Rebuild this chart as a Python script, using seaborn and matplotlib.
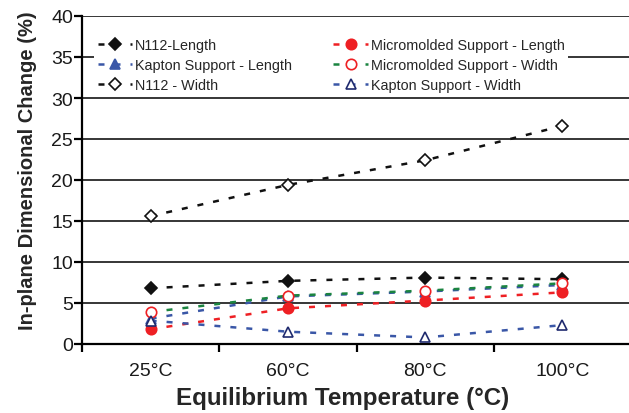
import matplotlib
matplotlib.use("Agg")
import matplotlib.pyplot as plt
import seaborn as sns
import pandas as pd
from matplotlib.ticker import FixedLocator

sns.set_theme(style="white")
plt.rcParams['font.family'] = ['Liberation Sans', 'DejaVu Sans']

categories = ["25°C", "60°C", "80°C", "100°C"]
n112_length = [6.8, 7.7, 8.1, 7.9]
kapton_length = [3.1, 5.8, 6.4, 7.2]
n112_width = [15.6, 19.4, 22.4, 26.6]
micro_length = [1.8, 4.35, 5.3, 6.3]
micro_width = [3.9, 5.9, 6.5, 7.4]
kapton_width = [2.85, 1.5, 0.8, 2.3]

series = [
    # label, values, line colour, marker, face, edge
    ("Kapton Support - Length", kapton_length, "#3a57a7", "^", "#3a57a7", "#3a57a7"),
    ("N112-Length", n112_length, "#111111", "D", "#111111", "#111111"),
    ("N112 - Width", n112_width, "#111111", "D", "white", "#111111"),
    ("Micromolded Support - Length", micro_length, "#ee2024", "o", "#ee2024", "#ee2024"),
    ("Micromolded Support - Width", micro_width, "#1b8440", "o", "white", "#ee2024"),
    ("Kapton Support - Width", kapton_width, "#3a57a7", "^", "white", "#1f2a6e"),
]

fig = plt.figure(figsize=(6.29, 4.14), dpi=100)
ax = fig.add_axes([82/629, 69/414, 549/629, 328/414])

handles = {}
for label, vals, col, mk, fc, ec in series:
    df = pd.DataFrame({"temp": pd.Categorical(categories, categories=categories, ordered=True),
                       "val": vals})
    sns.lineplot(data=df, x="temp", y="val", sort=False, ax=ax, color=col,
                 linewidth=1.8, linestyle=(0, (2.4, 4.0)),
                 marker=mk, markersize=7.5 if mk != "D" else 6.5,
                 markerfacecolor=fc, markeredgecolor=ec, markeredgewidth=1.2,
                 label=label, zorder=3)
    handles[label] = ax.get_lines()[-1]

ax.set_xlim(-0.5, 3.5)
ax.set_ylim(0, 40)
ax.set_yticks(range(0, 41, 5))
ax.yaxis.grid(True, color="black", linewidth=1.1)
ax.xaxis.grid(False)
ax.set_axisbelow(True)

for s in ["top", "right"]:
    ax.spines[s].set_visible(False)
for s in ["left", "bottom"]:
    ax.spines[s].set_visible(True)
    ax.spines[s].set_color("black")
    ax.spines[s].set_linewidth(1.6)

ax.set_xticks(range(len(categories)))
ax.set_xticklabels(categories)
ax.xaxis.set_minor_locator(FixedLocator([-0.5, 0.5, 1.5, 2.5, 3.5]))
ax.tick_params(axis="x", which="major", length=0, pad=13, labelsize=14, colors="#1a1a1a")
ax.tick_params(axis="x", which="minor", length=6, width=1.6, direction="out", color="black", bottom=True)
ax.tick_params(axis="y", which="major", length=6, width=1.6, direction="out", color="black",
               left=True, labelsize=14, pad=0.5, labelcolor="#1a1a1a")

ax.set_xlabel("Equilibrium Temperature (°C)", fontsize=17.4, fontweight="bold")
ax.set_ylabel("In-plane Dimensional Change (%)", fontsize=14.5, fontweight="bold")
ax.xaxis.set_label_coords(0.474, -0.127)
ax.yaxis.set_label_coords(-0.082, 0.53)

order = ["N112-Length", "Kapton Support - Length", "N112 - Width",
         "Micromolded Support - Length", "Micromolded Support - Width", "Kapton Support - Width"]
leg = ax.legend([handles[k] for k in order], order, ncol=2, loc="upper left",
                bbox_to_anchor=(94/629, 1 - 35/414), bbox_transform=fig.transFigure,
                frameon=True, fontsize=10.4, handlelength=2.4, handletextpad=0.2,
                columnspacing=2.85, labelspacing=0.42, borderpad=0.25, borderaxespad=0)
leg.get_frame().set_facecolor("white")
leg.get_frame().set_edgecolor("none")
leg.get_frame().set_alpha(1)

fig.savefig("out.png", dpi=100)
